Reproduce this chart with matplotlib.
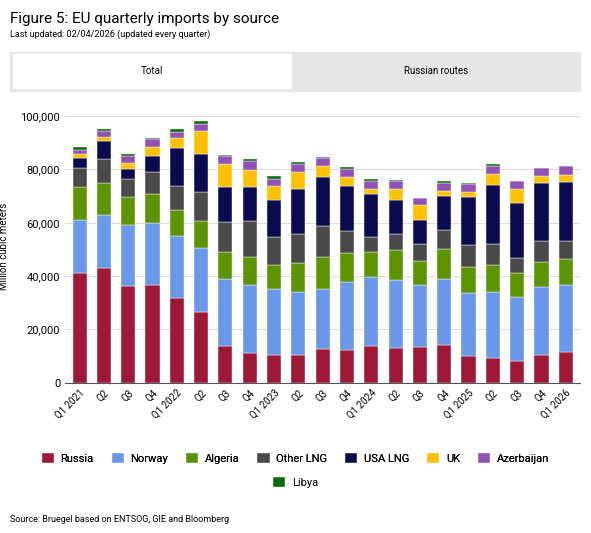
import matplotlib
matplotlib.use("Agg")
import matplotlib.pyplot as plt
from matplotlib.patches import Rectangle
import numpy as np

quarters = ["Q1 2021","Q2","Q3","Q4","Q1 2022","Q2","Q3","Q4","Q1 2023","Q2","Q3","Q4",
            "Q1 2024","Q2","Q3","Q4","Q1 2025","Q2","Q3","Q4","Q1 2026"]
russia = [41.3,42.9,36.2,36.6,31.6,26.7,13.9,11.2,10.4,10.4,12.7,12.3,13.9,13.1,13.5,14.0,10.2,9.4,8.2,10.5,11.6]
norway = [19.9,20.1,23.1,23.4,23.5,23.9,24.9,25.4,24.7,23.5,22.4,25.4,25.6,25.3,23.1,24.8,23.5,24.7,23.9,25.5,25.0]
algeria = [12.4,12.1,10.4,10.8,9.8,10.1,10.3,10.6,9.1,11.1,12.1,11.0,9.6,11.5,9.2,11.4,9.7,10.1,9.0,9.2,9.8]
other_lng = [6.9,8.7,6.9,8.4,9.0,10.8,11.3,13.5,10.3,10.9,11.7,8.2,5.7,6.0,6.1,7.1,8.1,7.7,5.7,8.1,6.6]
usa_lng = [3.8,6.8,3.7,5.8,14.3,14.4,13.1,12.8,14.1,16.9,18.3,17.0,16.0,12.7,9.2,12.9,18.3,22.1,20.7,21.5,22.4]
uk = [1.6,1.6,2.0,3.4,3.6,8.4,8.4,6.4,5.1,6.4,4.0,3.1,2.0,3.9,5.5,1.9,1.9,4.4,5.0,2.7,2.7]
azerbaijan = [1.6,2.1,2.7,2.9,2.4,2.9,3.2,3.3,2.9,2.9,3.1,3.1,3.0,3.3,2.7,3.0,2.9,3.0,3.3,3.2,3.1]
libya = [0.8,0.8,0.9,0.7,0.9,0.9,0.4,0.9,0.8,0.7,0.5,0.7,0.8,0.4,0.0,0.6,0.5,0.6,0.0,0.0,0.0]

series = [("Russia", russia, "#9e1838"), ("Norway", norway, "#6a98e8"),
          ("Algeria", algeria, "#5b9400"), ("Other LNG", other_lng, "#4a4a4a"),
          ("USA LNG", usa_lng, "#0b0c4f"), ("UK", uk, "#ffc000"),
          ("Azerbaijan", azerbaijan, "#9350b5"), ("Libya", libya, "#0a6b0a")]

plt.rcParams['font.family'] = ['Roboto', 'DejaVu Sans']
fig = plt.figure(figsize=(5.91, 5.33), dpi=100)
fig.text(0.017, 0.965, "Figure 5: EU quarterly imports by source", fontsize=11, ha='left', va='center')
fig.text(0.017, 0.935, "Last updated: 02/04/2026 (updated every quarter)", fontsize=6.5, ha='left', va='center')
fig.patches.append(Rectangle((0.017, 0.83), 0.965, 0.073, transform=fig.transFigure, color="#e6e6e6", zorder=0))
fig.patches.append(Rectangle((0.022, 0.835), 0.47, 0.063, transform=fig.transFigure, color="white", zorder=1))
fig.text(0.257, 0.866, "Total", fontsize=7, ha='center', va='center')
fig.text(0.737, 0.866, "Russian routes", fontsize=7, ha='center', va='center')
fig.text(0.017, 0.025, "Source: Bruegel based on ENTSOG, GIE and Bloomberg", fontsize=6.5, ha='left', va='center')

ax = fig.add_axes([0.11, 0.282, 0.872, 0.51])
x = np.arange(len(quarters))
bottom = np.zeros(len(quarters))
handles = []
for name, vals, col in series:
    v = np.array(vals) * 1000
    h = ax.bar(x, v, 0.58, bottom=bottom, color=col, label=name, edgecolor='white', linewidth=0.3)
    handles.append(h)
    bottom += v
ax.set_ylim(0, 102000)
ax.set_yticks(range(0, 100001, 20000))
ax.set_yticklabels([f"{t:,}" for t in range(0, 100001, 20000)], fontsize=8)
ax.set_xlim(-0.6, len(quarters) - 0.4)
ax.set_xticks(x)
ax.set_xticklabels(quarters, rotation=45, ha='right', rotation_mode='anchor', fontsize=7)
ax.grid(axis='y', color='#dddddd', linewidth=0.8)
ax.set_axisbelow(True)
for s in ['top', 'right', 'left']:
    ax.spines[s].set_visible(False)
ax.spines['bottom'].set_color('#555555')
ax.tick_params(axis='both', length=0)
ax.set_ylabel("Million cubic meters", fontsize=7, labelpad=8)
names = [s[0] for s in series]
leg1 = fig.legend(handles[:7], names[:7], loc='center', bbox_to_anchor=(0.5, 0.14), ncol=7,
           frameon=False, fontsize=8, handlelength=1.1, handleheight=1.1, columnspacing=1.6, handletextpad=0.6)
fig.legend(handles[7:], names[7:], loc='center', bbox_to_anchor=(0.5, 0.095), ncol=1,
           frameon=False, fontsize=8, handlelength=1.1, handleheight=1.1, handletextpad=0.6)
fig.add_artist(leg1)
fig.savefig("out.png", dpi=100)
